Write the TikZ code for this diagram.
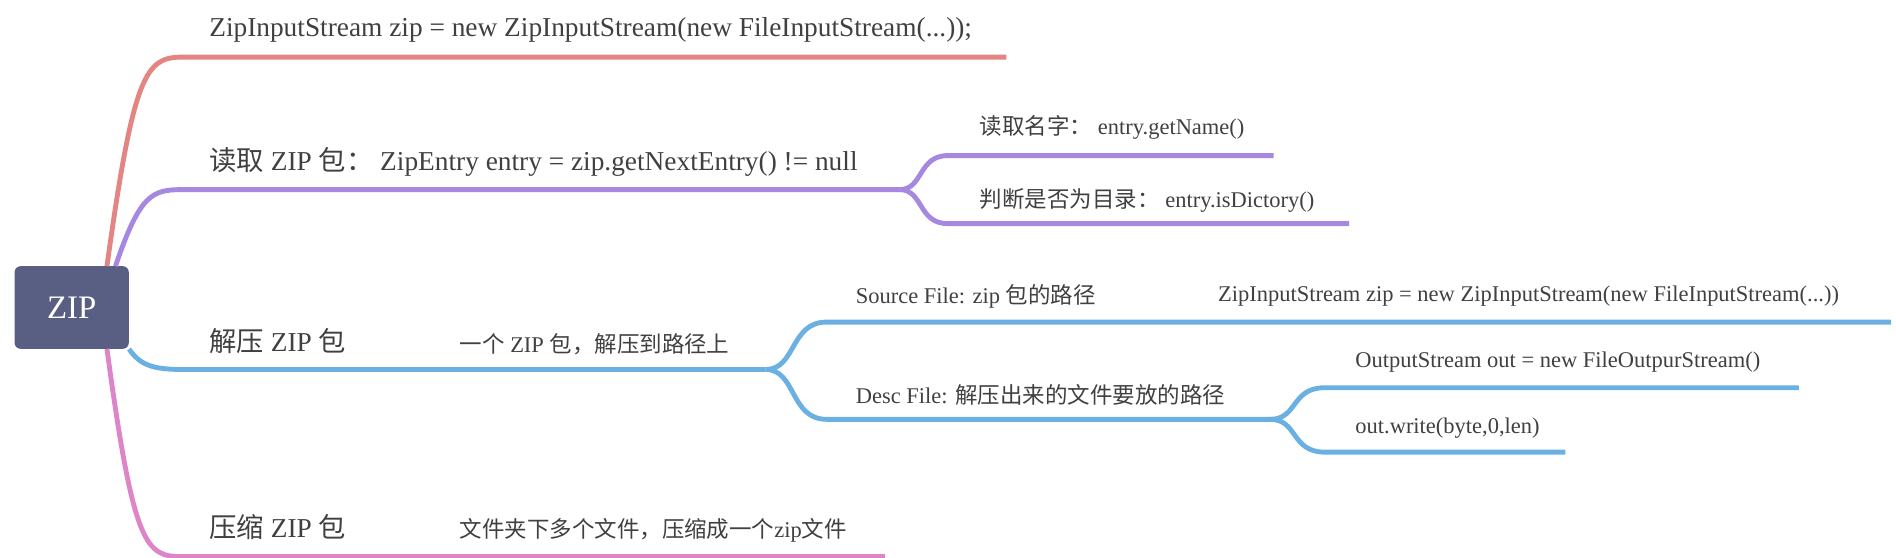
\documentclass[tikz,border=0pt]{standalone}
\usepackage{fontspec}
\setmainfont{Liberation Serif}
\newfontfamily\cjk{Noto Sans CJK SC}
\usetikzlibrary{positioning}
\definecolor{rootc}{HTML}{585F82}
\definecolor{redc}{HTML}{E38582}
\definecolor{purc}{HTML}{A688E0}
\definecolor{bluc}{HTML}{6AB0E3}
\definecolor{pinc}{HTML}{DE84C8}
\definecolor{txtc}{HTML}{404040}
\tikzset{
  big/.style={anchor=west, text=txtc, inner sep=0pt, font=\fontsize{22.5}{26}\selectfont},
  small/.style={anchor=west, text=txtc, inner sep=0pt, font=\fontsize{18.5}{22}\selectfont},
  br/.style={line width=4pt},
}
\newcommand{\zh}[1]{{\cjk #1}}
\begin{document}
\begin{tikzpicture}[x=1pt,y=-1pt]
        \useasboundingbox (0,0) rectangle (1560,459);
        \node[fill=rootc, rounded corners=5pt, minimum width=94pt, minimum height=68pt,
              text=white, font=\fontsize{27}{30}\selectfont] (zip) at (59,253) {ZIP};

        % level one
        \node[big] (create) at (172,25)  {ZipInputStream zip = new ZipInputStream(new FileInputStream(...));};
        \node[big] (read)   at (172,133) {\zh{读取} ZIP \zh{包：} ZipEntry entry = zip.getNextEntry() != null};
        \node[big] (unzip)  at (172,281) {\zh{解压} ZIP \zh{包}};
        \node[small] (unzipd) at (378,283) {\zh{一个} ZIP \zh{包，解压到路径上}};
        \node[big] (pack)   at (172,434) {\zh{压缩} ZIP \zh{包}};
        \node[small] (packd) at (378,436) {\zh{文件夹下多个文件，压缩成一个}zip\zh{文件}};

        % level two
        \node[small] (name)  at (806,105) {\zh{读取名字：} entry.getName()};
        \node[small] (isdir) at (806,165) {\zh{判断是否为目录：} entry.isDictory()};
        \node[small] (src)   at (704,244) {Source File: zip \zh{包的路径}};
        \node[small] (srcd)  at (1002,244) {ZipInputStream zip = new ZipInputStream(new FileInputStream(...))};
        \node[small] (desc)  at (704,325) {Desc File: \zh{解压出来的文件要放的路径}};
        \node[small] (out)   at (1115,298) {OutputStream out = new FileOutpurStream()};
        \node[small] (wr)    at (1115,352) {out.write(byte,0,len)};

        \coordinate (e1) at (828,47);
        \coordinate (e2) at (740,156);
        \coordinate (e3) at (630,304);
        \coordinate (e4) at (728,458);
        \coordinate (e21) at (1048,128);
        \coordinate (e22) at (1110,184);
        \coordinate (e31) at (1556,265);
        \coordinate (e32) at (1045,345);
        \coordinate (e321) at (1480,319);
        \coordinate (e322) at (1288,372);

        \draw[br, redc] (88,219) .. controls (110,60) and (120,47) .. (150,47) -- (e1);
        \draw[br, purc] (95,219) .. controls (115,160) and (125,156) .. (150,156) -- (e2);
        \draw[br, bluc] (zip.south east) .. controls (115,300) and (125,304) .. (150,304) -- (e3);
        \draw[br, pinc] (88,287) .. controls (110,450) and (120,458) .. (150,458) -- (e4);

        \draw[br, purc] (e2) .. controls (760,156) and (755,128) .. (780,128) -- (e21);
        \draw[br, purc] (e2) .. controls (760,156) and (755,184) .. (780,184) -- (e22);
        \draw[br, bluc] (e3) .. controls (655,304) and (650,265) .. (680,265) -- (e31);
        \draw[br, bluc] (e3) .. controls (655,304) and (650,345) .. (680,345) -- (e32);
        \draw[br, bluc] (e32) .. controls (1068,345) and (1062,319) .. (1090,319) -- (e321);
        \draw[br, bluc] (e32) .. controls (1068,345) and (1062,372) .. (1090,372) -- (e322);
\end{tikzpicture}
\end{document}
